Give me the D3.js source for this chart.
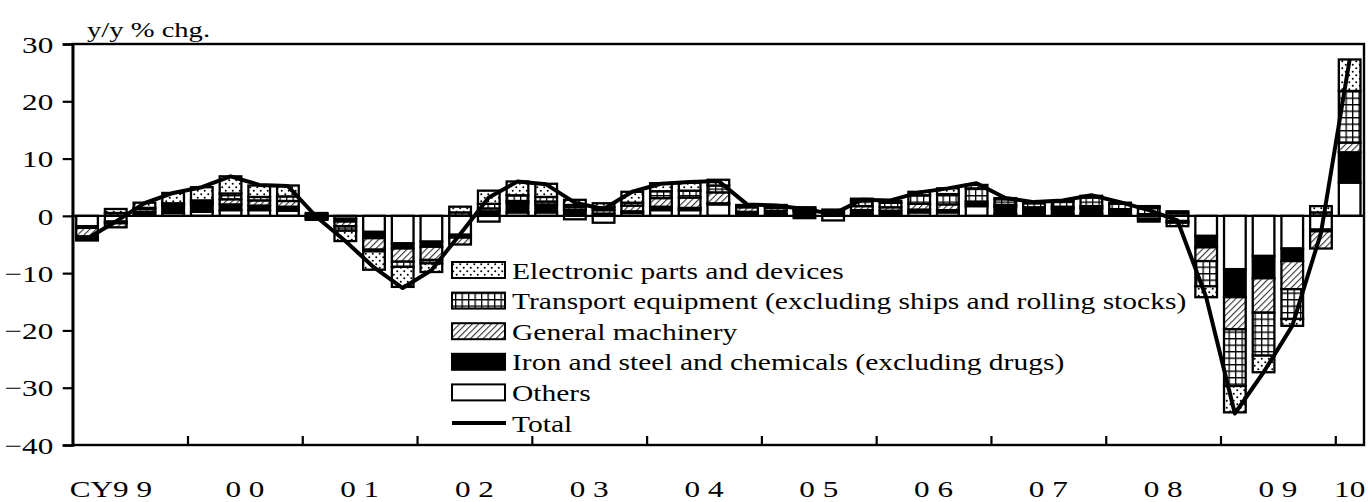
<!DOCTYPE html>
<html>
<head>
<meta charset="utf-8">
<script src="https://cdn.jsdelivr.net/npm/d3@7"></script>
<style>
  html, body { margin: 0; padding: 0; background: #fff; }
  svg { display: block; }
  svg text { font-family: "Liberation Serif", "Times New Roman", Times, "DejaVu Serif", serif; fill: #000; }
</style>
</head>
<body>
<svg id="chart" width="1368" height="502"></svg>
<script>
// ---------------- data ----------------
const quarters = [
  "99Q1","99Q2","99Q3","99Q4","00Q1","00Q2","00Q3","00Q4",
  "01Q1","01Q2","01Q3","01Q4","02Q1","02Q2","02Q3","02Q4",
  "03Q1","03Q2","03Q3","03Q4","04Q1","04Q2","04Q3","04Q4",
  "05Q1","05Q2","05Q3","05Q4","06Q1","06Q2","06Q3","06Q4",
  "07Q1","07Q2","07Q3","07Q4","08Q1","08Q2","08Q3","08Q4",
  "09Q1","09Q2","09Q3","09Q4","10Q1"
];
const others = [
  -1.8,-1.0, 0.2, 0.5, 0.7, 1.0, 1.0, 0.9,
   0.3,-0.5,-2.8,-4.8,-4.5,-3.3,-1.0, 0.6,
   0.6,-0.6,-1.2, 0.5, 1.0, 1.0, 2.0, 0.2,
   0.3,-0.4,-0.8, 0.3, 0.4, 0.6, 0.6, 1.7,
   0.3, 0.2, 0.2, 0.4, 0.3,-0.5,-0.9,-3.5,
  -9.3,-7.0,-5.7,-2.4, 5.8
];
const ironSteelChemicals = [
  -0.3,-0.3, 0.5, 1.2, 1.3, 1.0, 0.8, 0.7,
  -0.3,-0.5,-1.1,-0.9,-0.9,-0.5, 0.8, 1.6,
   1.4, 1.0, 0.4, 0.3, 0.6, 0.4, 0.2, 0.5,
   0.6, 0.8, 0.6, 0.7, 0.5, 0.5, 0.4, 0.4,
   1.3, 1.0, 1.0, 0.9, 0.6,-0.5,-0.3,-2.0,
  -4.9,-3.9,-2.2,-0.3, 5.3
];
const generalMachinery = [
  -1.5,-0.7, 0.5, 0.3, 0.3, 0.9, 0.9, 1.0,
  -0.2,-0.8,-2.0,-2.3,-2.3,-1.2, 0.5, 0.4,
   0.5, 0.5, 0.6, 1.0, 1.5, 1.8, 1.9, 0.8,
   0.5, 0.3, 0.3, 0.7, 0.6, 1.0, 1.0, 0.4,
   0.3, 0.3, 0.4, 0.4, 0.2, 0.3,-0.6,-2.4,
  -5.6,-6.0,-4.9,-3.0, 1.7
];
const transportEquipment = [
  -0.4, 0.5, 0.2, 0.2, 0.4, 1.0, 0.6, 0.8,
   0.2,-0.8,-0.3,-0.9,-0.6, 0.6, 0.8, 1.0,
   0.8, 0.4, 0.5, 0.5, 1.2, 1.2, 1.2, 0.3,
   0.4, 0.3, 0.2, 1.0, 0.8, 1.5, 1.8, 2.3,
   1.0, 0.7, 0.9, 1.5, 1.0, 1.2, 0.5,-4.4,
  -9.9,-7.5,-5.2, 0.6, 9.0
];
const electronicParts = [
  -0.3, 0.7, 0.9, 1.8, 2.3, 3.0, 2.0, 1.9,
  -0.2,-1.8,-3.2,-3.5,-1.5, 1.0, 2.3, 2.4,
   2.3, 0.9, 0.7, 1.9, 1.4, 1.4, 1.0, 0.1,
   0.1, 0.1, 0.0, 0.3, 0.3, 0.6, 1.0, 0.6,
   0.2, 0.1, 0.1, 0.3, 0.2, 0.2, 0.3,-1.9,
  -4.6,-2.9,-1.2, 1.1, 5.5
];
const total = [
  -4.0,-1.0, 2.2, 4.0, 5.0, 6.9, 5.4, 5.2,
  -0.2,-4.4,-9.0,-12.6,-9.5,-3.2, 3.2, 6.0,
   5.5, 2.3, 1.2, 4.2, 5.6, 5.9, 6.1, 2.0,
   1.8, 1.2, 0.3, 2.8, 2.7, 4.1, 4.8, 5.7,
   3.1, 2.4, 2.7, 3.6, 2.4, 1.0,-0.8,-14.2,
  -34.5,-27.3,-19.2,-3.0, 27.3
];
const seriesNames = [
  "Electronic parts and devices",
  "Transport equipment (excluding ships and rolling stocks)",
  "General machinery",
  "Iron and steel and chemicals (excluding drugs)",
  "Others",
  "Total"
];
const yTicks = [30, 20, 10, 0, -10, -20, -30, -40];
const yearLabels = ["CY9 9","0 0","0 1","0 2","0 3","0 4","0 5","0 6","0 7","0 8","0 9","10"];
const yAxisTitle = "y/y % chg.";

// ---------------- layout ----------------
const plot = { left: 72.7, right: 1364, top: 44, bottom: 445 };
const FONT = '"Liberation Serif", "Times New Roman", Times, "DejaVu Serif", serif';
const SX = 1.3; // horizontal stretch of the original lettering

const svg = d3.select("#chart");
const defs = svg.append("defs");

// patterns
const pDots = defs.append("pattern").attr("id", "pDots")
  .attr("patternUnits", "userSpaceOnUse").attr("width", 7).attr("height", 7);
pDots.append("rect").attr("width", 7).attr("height", 7).attr("fill", "#fff");
pDots.append("circle").attr("cx", 1.75).attr("cy", 1.75).attr("r", 1.0).attr("fill", "#000");
pDots.append("circle").attr("cx", 5.25).attr("cy", 5.25).attr("r", 1.0).attr("fill", "#000");

const pGrid = defs.append("pattern").attr("id", "pGrid")
  .attr("patternUnits", "userSpaceOnUse").attr("width", 6.5).attr("height", 6.5);
pGrid.append("rect").attr("width", 6.5).attr("height", 6.5).attr("fill", "#fff");
pGrid.append("path").attr("d", "M0,0.6H6.5M0.6,0V6.5").attr("stroke", "#000").attr("stroke-width", 1.4);

const pHatch = defs.append("pattern").attr("id", "pHatch")
  .attr("patternUnits", "userSpaceOnUse").attr("width", 4.5).attr("height", 4.5)
  .attr("patternTransform", "rotate(45)");
pHatch.append("rect").attr("width", 4.5).attr("height", 4.5).attr("fill", "#fff");
pHatch.append("line").attr("x1", 0).attr("y1", 0).attr("x2", 0).attr("y2", 4.5)
  .attr("stroke", "#333").attr("stroke-width", 2.2);

const fills = {
  others: "#fff",
  iron: "#000",
  general: "url(#pHatch)",
  transport: "url(#pGrid)",
  electronic: "url(#pDots)"
};

// table built from arrays
const table = quarters.map((q, i) => ({
  q,
  others: others[i],
  iron: ironSteelChemicals[i],
  general: generalMachinery[i],
  transport: transportEquipment[i],
  electronic: electronicParts[i],
  total: total[i]
}));

const keys = ["others", "iron", "general", "transport", "electronic"];
const stacked = d3.stack().keys(keys).offset(d3.stackOffsetDiverging)(table);

// scales
const y = d3.scaleLinear().domain([-40, 30]).range([plot.bottom, plot.top]);
const xb = d3.scaleBand().domain(quarters).range([plot.left, plot.right])
  .paddingInner(0.245).paddingOuter(0.1225);
const xq = d3.scaleLinear().domain([0, quarters.length]).range([plot.left, plot.right]);

// bars
const gBars = svg.append("g");
stacked.forEach(layer => {
  gBars.append("g").selectAll("rect").data(layer).join("rect")
    .attr("x", d => xb(d.data.q))
    .attr("width", xb.bandwidth())
    .attr("y", d => y(Math.max(d[0], d[1])))
    .attr("height", d => Math.abs(y(d[0]) - y(d[1])))
    .attr("fill", fills[layer.key])
    .attr("stroke", "#000")
    .attr("stroke-width", 2.3);
});

// zero line
svg.append("line")
  .attr("x1", plot.left).attr("x2", plot.right)
  .attr("y1", y(0)).attr("y2", y(0))
  .attr("stroke", "#000").attr("stroke-width", 2.2);

// total line
svg.append("path").datum(table)
  .attr("fill", "none").attr("stroke", "#000").attr("stroke-width", 4)
  .attr("stroke-linejoin", "round")
  .attr("d", d3.line().x(d => xb(d.q) + xb.bandwidth() / 2).y(d => y(d.total)));

// frame
svg.append("rect")
  .attr("x", plot.left).attr("y", plot.top)
  .attr("width", plot.right - plot.left).attr("height", plot.bottom - plot.top)
  .attr("fill", "none").attr("stroke", "#000").attr("stroke-width", 2.4);

// y axis
const yAxis = d3.axisLeft(y).tickValues(yTicks).tickSize(10).tickFormat(d3.format("d"));
const gy = svg.append("g").attr("transform", `translate(${plot.left},0)`).call(yAxis);
gy.attr("font-family", null).attr("font-size", null);
gy.select(".domain").attr("stroke-width", 2.6);
gy.selectAll(".tick line").attr("stroke-width", 2.2);
gy.selectAll(".tick text")
  .attr("x", -19.4 / SX).attr("dy", "0.34em")
  .attr("transform", `scale(${SX},1)`)
  .style("font-family", FONT).style("font-size", "24px");

// x axis: year boundary ticks (inward)
const yearTicks = d3.range(4, quarters.length, 4);
const xAxis = d3.axisBottom(xq).tickValues(yearTicks).tickSize(-9).tickFormat("");
const gx = svg.append("g").attr("transform", `translate(0,${plot.bottom})`).call(xAxis);
gx.select(".domain").remove();
gx.selectAll(".tick line").attr("stroke-width", 2.2);

// year labels
const labelX = (d, k) => k === 0 ? xq(2) + 22 : (k < 11 ? xq(k * 4 + 2) : xq(44.5));
svg.append("g").selectAll("text").data(yearLabels).join("text")
  .attr("transform", (d, k) => `translate(${labelX(d, k)},497) scale(${SX},1)`)
  .attr("text-anchor", (d, k) => k === 0 ? "end" : "middle")
  .style("font-family", FONT).style("font-size", "24px")
  .text(d => d);

// y axis title
svg.append("text").attr("transform", `translate(87,37) scale(${SX},1)`)
  .style("font-family", FONT).style("font-size", "22px").text(yAxisTitle);

// legend
const legend = svg.append("g");
const legendFills = ["url(#pDots)", "url(#pGrid)", "url(#pHatch)", "#000", "#fff"];
const rowY = k => 270 + k * 30.6;
seriesNames.forEach((name, k) => {
  if (k < 5) {
    legend.append("rect").attr("x", 452).attr("y", rowY(k) - 8)
      .attr("width", 53).attr("height", 16)
      .attr("fill", legendFills[k]).attr("stroke", "#000").attr("stroke-width", 2);
  } else {
    legend.append("line").attr("x1", 452).attr("x2", 506)
      .attr("y1", rowY(k)).attr("y2", rowY(k))
      .attr("stroke", "#000").attr("stroke-width", 4);
  }
  legend.append("text")
    .attr("transform", `translate(512,${rowY(k) + 8.5}) scale(1.23,1)`)
    .style("font-family", FONT).style("font-size", "24px").text(name);
});
</script>
</body>
</html>
